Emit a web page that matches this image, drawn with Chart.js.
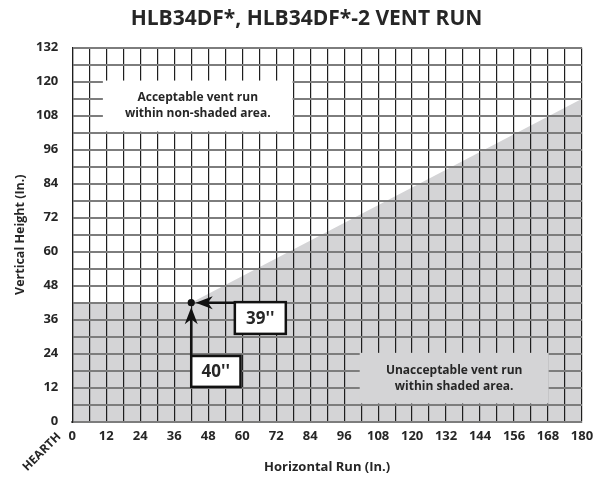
<!DOCTYPE html>
<html>
<head>
<meta charset="utf-8">
<script src="https://cdn.jsdelivr.net/npm/chart.js@4"></script>
<style>
  html, body { margin: 0; padding: 0; background: #fff; }
  #wrap { width: 605px; height: 477px; }
</style>
</head>
<body>
<div id="wrap"><canvas id="chart"></canvas></div>
<script>
const titleText = 'HLB34DF*, HLB34DF*-2 VENT RUN';
const xTickLabels = [0, 12, 24, 36, 48, 60, 72, 84, 96, 108, 120, 132, 144, 156, 168, 180];
const yTickLabels = [0, 12, 24, 36, 48, 60, 72, 84, 96, 108, 120, 132];

// boundary of the unacceptable (shaded) region
const shadeX = [0, 42, 180];
const shadeY = [42, 42, 114];

// minimum vent point
const pointX = [42];
const pointY = [42];

const okNote = ['Acceptable vent run', 'within non-shaded area.'];
const badNote = ['Unacceptable vent run', 'within shaded area.'];
const runLabel = "39''";
const riseLabel = "40''";

const FONT = '"Open Sans", sans-serif';
const INK = '#262626';

const overlay = {
  id: 'overlay',
  afterDraw(chart) {
    const { ctx } = chart;
    const xs = chart.scales.x;
    const ys = chart.scales.y;
    const px = (v) => xs.getPixelForValue(v);
    const py = (v) => ys.getPixelForValue(v);

    const box = (x1, y1, x2, y2, fill, stroke) => {
      const l = px(x1), r = px(x2), t = py(y2), b = py(y1);
      ctx.fillStyle = fill;
      ctx.fillRect(l, t, r - l, b - t);
      if (stroke) {
        ctx.lineWidth = 2.5;
        ctx.strokeStyle = stroke;
        ctx.strokeRect(l, t, r - l, b - t);
      }
      return { l, r, t, b };
    };

    const lines = (arr, cx, cy, gap, size) => {
      ctx.font = `bold ${size}px ${FONT}`;
      ctx.fillStyle = INK;
      ctx.textAlign = 'center';
      ctx.textBaseline = 'middle';
      arr.forEach((s, i) => ctx.fillText(s, cx, cy + (i - (arr.length - 1) / 2) * gap));
    };

    ctx.save();

    // title, centred on the page rather than the plot
    lines([titleText], chart.width / 2 + 4, 19.5, 0, 21);

    // note boxes hiding the grid
    const a = box(10.8, 102.4, 77.8, 120.4, '#fff');
    lines(okNote, (a.l + a.r) / 2, (a.t + a.b) / 2, 16, 12);
    const u = box(101.5, 6.4, 168.2, 24.3, '#d4d4d6');
    lines(badNote, (u.l + u.r) / 2, (u.t + u.b) / 2, 16, 12);

    const dx = px(pointX[0]), dy = py(pointY[0]);

    // label boxes with arrows to the point
    const r1 = box(57.4, 31, 75.4, 42.2, '#fff', '#111');
    const r2 = box(42, 12.3, 59.4, 23.2, '#fff', '#111');
    ctx.strokeStyle = '#111';
    ctx.lineWidth = 2.5;
    ctx.beginPath();
    ctx.moveTo(r1.l, dy);
    ctx.lineTo(dx + 12, dy);
    ctx.moveTo(dx, r2.t);
    ctx.lineTo(dx, dy + 12);
    ctx.stroke();

    const head = (tx, ty, ang) => {
      ctx.save();
      ctx.translate(tx, ty);
      ctx.rotate(ang);
      ctx.fillStyle = '#111';
      ctx.beginPath();
      ctx.moveTo(0, 0);
      ctx.lineTo(17, -6.5);
      ctx.lineTo(12, 0);
      ctx.lineTo(17, 6.5);
      ctx.closePath();
      ctx.fill();
      ctx.restore();
    };
    head(dx + 4.5, dy, 0);
    head(dx, dy + 4.5, Math.PI / 2);

    lines([runLabel], (r1.l + r1.r) / 2, (r1.t + r1.b) / 2 + 1, 0, 17);
    lines([riseLabel], (r2.l + r2.r) / 2, (r2.t + r2.b) / 2 + 1, 0, 17);

    // HEARTH label under the origin
    ctx.save();
    ctx.translate(42, 452);
    ctx.rotate(-Math.PI / 4);
    ctx.font = `bold 12px ${FONT}`;
    ctx.fillStyle = INK;
    ctx.textAlign = 'center';
    ctx.textBaseline = 'middle';
    ctx.fillText('HEARTH', 0, 0);
    ctx.restore();

    ctx.restore();
  }
};

new Chart(document.getElementById('chart'), {
  type: 'scatter',
  data: {
    datasets: [
      {
        data: shadeX.map((x, i) => ({ x, y: shadeY[i] })),
        showLine: true,
        fill: 'origin',
        backgroundColor: '#d4d4d6',
        borderWidth: 0,
        pointRadius: 0
      },
      {
        data: pointX.map((x, i) => ({ x, y: pointY[i] })),
        pointRadius: 3.6,
        pointBackgroundColor: '#111',
        pointBorderWidth: 0
      }
    ]
  },
  options: {
    responsive: true,
    maintainAspectRatio: false,
    animation: false,
    layout: { padding: { top: 47.7, right: 23, left: 0, bottom: 0 } },
    plugins: {
      legend: { display: false },
      tooltip: { enabled: false },
      filler: { drawTime: 'beforeDraw' },
      title: { display: false }
    },
    scales: {
      x: {
        type: 'linear',
        min: 0,
        max: 180,
        afterFit: (s) => { s.height = 55.3; },
        ticks: {
          stepSize: 6,
          autoSkip: false,
          maxRotation: 0,
          padding: 7,
          color: INK,
          font: { family: FONT, size: 13, weight: 'bold' },
          callback: (v) => (xTickLabels.includes(v) ? String(v) : '')
        },
        grid: { color: '#1e1e1e', lineWidth: 1.2, drawTicks: false },
        border: { color: '#7d7d7d', width: 2 },
        title: {
          display: true,
          text: 'Horizontal Run (In.)',
          color: INK,
          font: { family: FONT, size: 13, weight: 'bold' },
          padding: { top: 0, bottom: 2 }
        }
      },
      y: {
        type: 'linear',
        min: 0,
        max: 132,
        afterFit: (s) => { s.width = 72.3; },
        ticks: {
          stepSize: 6,
          autoSkip: false,
          padding: 14,
          color: INK,
          font: { family: FONT, size: 13, weight: 'bold' },
          callback: (v) => (yTickLabels.includes(v) ? String(v) : '')
        },
        grid: { color: '#7d7d7d', lineWidth: 2, drawTicks: false },
        border: { color: '#1e1e1e', width: 1.2 },
        title: {
          display: true,
          text: 'Vertical Height (In.)',
          color: INK,
          font: { family: FONT, size: 12.5, weight: 'bold' },
          padding: { top: 13, bottom: 0 }
        }
      }
    }
  },
  plugins: [overlay]
});
</script>
</body>
</html>
